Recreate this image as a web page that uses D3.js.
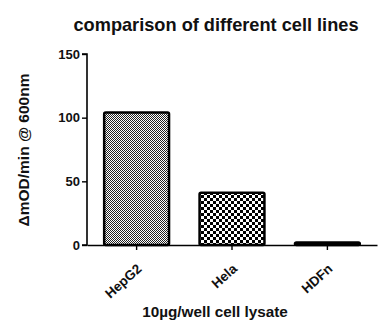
<!DOCTYPE html>
<html><head><meta charset="utf-8">
<script src="https://cdn.jsdelivr.net/npm/d3@7"></script>
<style>body{margin:0;background:#fff}svg{display:block}text{font-family:Arial,"Liberation Sans",sans-serif;font-weight:bold;fill:#111}</style>
</head><body><svg id="c" width="379" height="336"></svg>
<script>
const categories = ["HepG2", "Hela", "HDFn"];
const values = [104, 41, 2];
const yTicks = [0, 50, 100, 150];
const patterns = ["fine", "coarse", "solid"];

const svg = d3.select("#c");
const m = {l: 87};
const x = d3.scaleBand().domain(categories).range([m.l, 377]).paddingInner(0.32).paddingOuter(0.18);
const y = d3.scaleLinear().domain([0, 150]).range([245, 54]);

const defs = svg.append("defs");
const pf = defs.append("pattern").attr("id", "fine").attr("width", 2).attr("height", 2).attr("patternUnits", "userSpaceOnUse");
pf.append("rect").attr("width", 2).attr("height", 2).attr("fill", "#fff");
pf.append("rect").attr("width", 1).attr("height", 1).attr("fill", "#222");
pf.append("rect").attr("x", 1).attr("y", 1).attr("width", 1).attr("height", 1).attr("fill", "#222");
const pc = defs.append("pattern").attr("id", "coarse").attr("width", 6).attr("height", 6).attr("patternUnits", "userSpaceOnUse");
pc.append("rect").attr("width", 6).attr("height", 6).attr("fill", "#fff");
pc.append("rect").attr("width", 3).attr("height", 3).attr("fill", "#000");
pc.append("rect").attr("x", 3).attr("y", 3).attr("width", 3).attr("height", 3).attr("fill", "#000");

svg.append("text").attr("x", 216).attr("y", 31).attr("text-anchor", "middle").style("font-size", "18.2px").text("comparison of different cell lines");

svg.selectAll("rect.bar").data(categories).join("rect").attr("class", "bar")
  .attr("x", d => x(d)).attr("width", x.bandwidth())
  .attr("y", (d, i) => y(values[i])).attr("height", (d, i) => y(0) - y(values[i]))
  .attr("rx", 1.5)
  .attr("fill", (d, i) => patterns[i] === "solid" ? "#000" : `url(#${patterns[i]})`)
  .attr("stroke", "#000").attr("stroke-width", 2.5);

const ya = svg.append("g").attr("transform", `translate(${m.l},0)`)
  .call(d3.axisLeft(y).tickValues(yTicks).tickSize(5).tickPadding(2));
ya.select(".domain").attr("stroke-width", 1.6).attr("d", `M-5,${y(150)}H0V${y(0)}H-5`);
ya.selectAll(".tick line").attr("stroke-width", 1.4);
ya.selectAll(".tick text").style("font-size", "13px").style("font-weight", "bold").attr("fill", "#111");

const xa = svg.append("g").attr("transform", `translate(0,${y(0)})`)
  .call(d3.axisBottom(x).tickSize(5).tickSizeOuter(0));
xa.select(".domain").attr("stroke-width", 1.6);
xa.selectAll(".tick line").attr("stroke-width", 1.4);
xa.selectAll(".tick text").style("font-size", "13.5px").style("font-weight", "bold").attr("fill", "#111")
  .attr("text-anchor", "end").attr("dy", 0).attr("y", 0).attr("transform", "translate(6,25) rotate(-42)");

svg.append("text").attr("transform", "translate(29,150) rotate(-90)").attr("text-anchor", "middle").style("font-size", "15.5px").text("ΔmOD/min @ 600nm");
svg.append("text").attr("x", 215).attr("y", 317).attr("text-anchor", "middle").style("font-size", "15.3px").text("10µg/well cell lysate");
</script></body></html>
